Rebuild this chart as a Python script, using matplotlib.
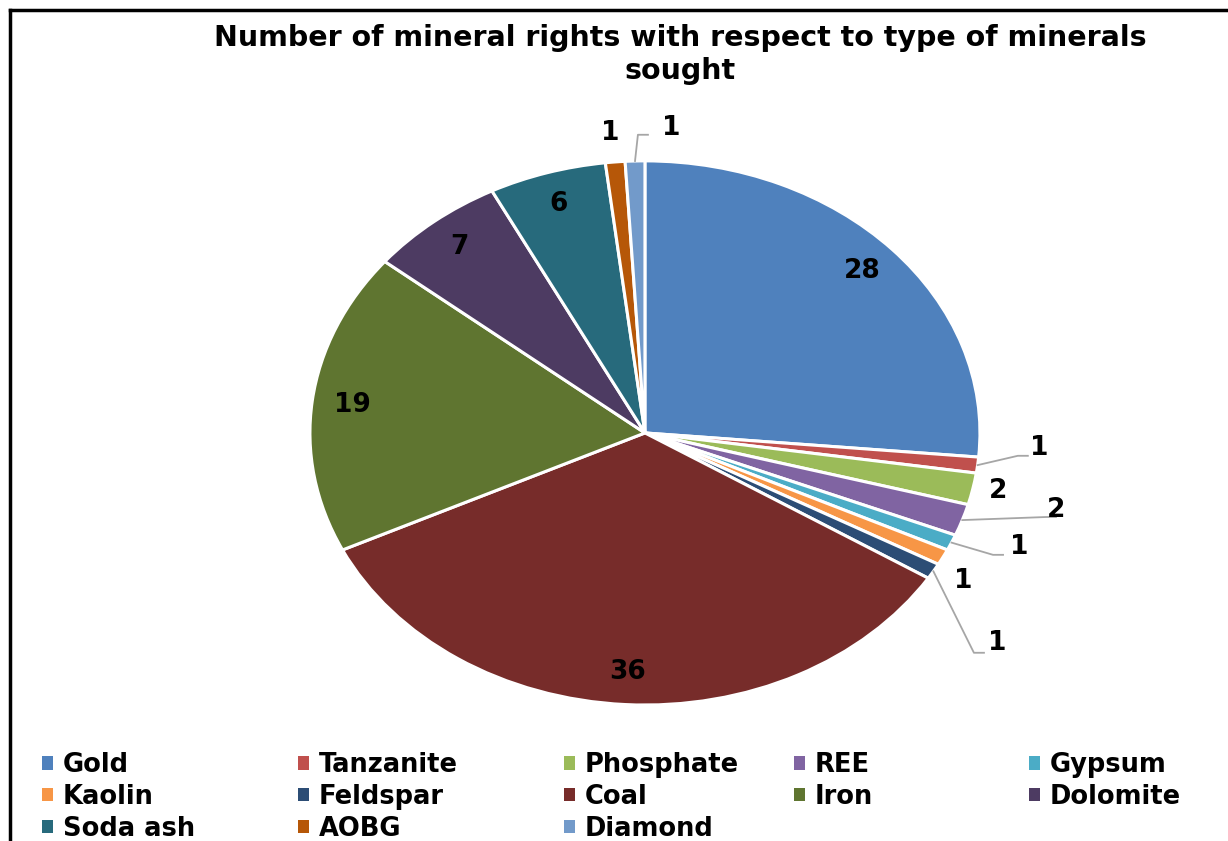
import numpy as np
import matplotlib.pyplot as plt
from matplotlib.patches import Patch
from matplotlib.lines import Line2D

minerals = ['Gold', 'Tanzanite', 'Phosphate', 'REE', 'Gypsum', 'Kaolin', 'Feldspar',
            'Coal', 'Iron', 'Dolomite', 'Soda ash', 'AOBG', 'Diamond']
rights = [28, 1, 2, 2, 1, 1, 1, 36, 19, 7, 6, 1, 1]
colors = ['#4F81BD', '#C0504D', '#9BBB59', '#8064A2', '#4BACC6', '#F79646', '#2C4D75',
          '#772C2A', '#5F7530', '#4D3B62', '#276A7C', '#B65708', '#729ACA']

# labels that sit inside their wedge
inside = ['Gold', 'Coal', 'Iron', 'Dolomite', 'Soda ash']
# outside labels: (label x, label y, elbow x, elbow y) in pie units, elbow None = no leader
outside = {
    'Tanzanite': (1.150, -0.055, 1.113, -0.084),
    'Phosphate': (1.054, -0.213, None, None),
    'REE':       (1.200, -0.283, 1.197, -0.309),
    'Gypsum':    (1.090, -0.420, 1.039, -0.448),
    'Kaolin':    (0.949, -0.544, None, None),
    'Feldspar':  (1.025, -0.771, 0.982, -0.808),
    'AOBG':      (-0.104, 1.101, None, None),
    'Diamond':   (0.050, 1.121, -0.021, 1.096),
}

plt.rcParams['font.family'] = ['DejaVu Sans']
fig = plt.figure(figsize=(12.28, 8.41), dpi=100)

ax = fig.add_axes([0.2524, 0.1617, 0.5456, 0.647])
wedges, _ = ax.pie(rights, colors=colors, startangle=90, counterclock=False,
                   wedgeprops=dict(edgecolor='white', linewidth=2.2))
ax.set_aspect('auto')
ax.set_xlim(-1, 1)
ax.set_ylim(-1, 1)

lbl_kw = dict(fontsize=19, fontweight='bold', color='black', clip_on=False)
for name, val, w in zip(minerals, rights, wedges):
    mid = np.deg2rad((w.theta1 + w.theta2) / 2)
    if name in inside:
        r = 0.88
        ax.text(r * np.cos(mid), r * np.sin(mid), str(val), ha='center', va='center', **lbl_kw)
    else:
        lx, ly, bx, by = outside[name]
        if bx is None:
            ax.text(lx, ly, str(val), ha='center', va='center', **lbl_kw)
        else:
            ex, ey = np.cos(mid), np.sin(mid)
            ax.plot([ex, bx, bx + 0.03], [ey, by, by], color='#A6A6A6', lw=1.3,
                    clip_on=False, zorder=1)
            ax.text(lx, ly, str(val), ha='left', va='center', **lbl_kw)

fig.text(0.554, 0.972, 'Number of mineral rights with respect to type of minerals\nsought',
         ha='center', va='top', fontsize=20.5, fontweight='bold', linespacing=1.25)

# legend in five columns, row-major like the original layout
cols = [['Gold', 'Kaolin', 'Soda ash'], ['Tanzanite', 'Feldspar', 'AOBG'],
        ['Phosphate', 'Coal', 'Diamond'], ['REE', 'Iron'], ['Gypsum', 'Dolomite']]
col_x = [45, 301, 567, 797, 1032]
cmap = dict(zip(minerals, colors))
for names, x in zip(cols, col_x):
    handles = [Patch(facecolor=cmap[n], edgecolor='none') for n in names]
    leg = fig.legend(handles, names, loc='upper left',
                     bbox_to_anchor=(x / 1228 - 0.011, 1 - 742 / 841),
                     frameon=False, ncol=1, handlelength=0.42, handleheight=0.42,
                     handletextpad=0.4, labelspacing=0.22, borderaxespad=0,
                     prop=dict(size=18.5, weight='bold'))

# chart frame (cut off at right and bottom)
fig.add_artist(Line2D([10 / 1228, 1.0], [1 - 10 / 841] * 2, color='black', lw=2.5,
                      transform=fig.transFigure))
fig.add_artist(Line2D([10 / 1228] * 2, [0.0, 1 - 10 / 841], color='black', lw=2.5,
                      transform=fig.transFigure))

fig.savefig('out.png', dpi=100, facecolor='white')
